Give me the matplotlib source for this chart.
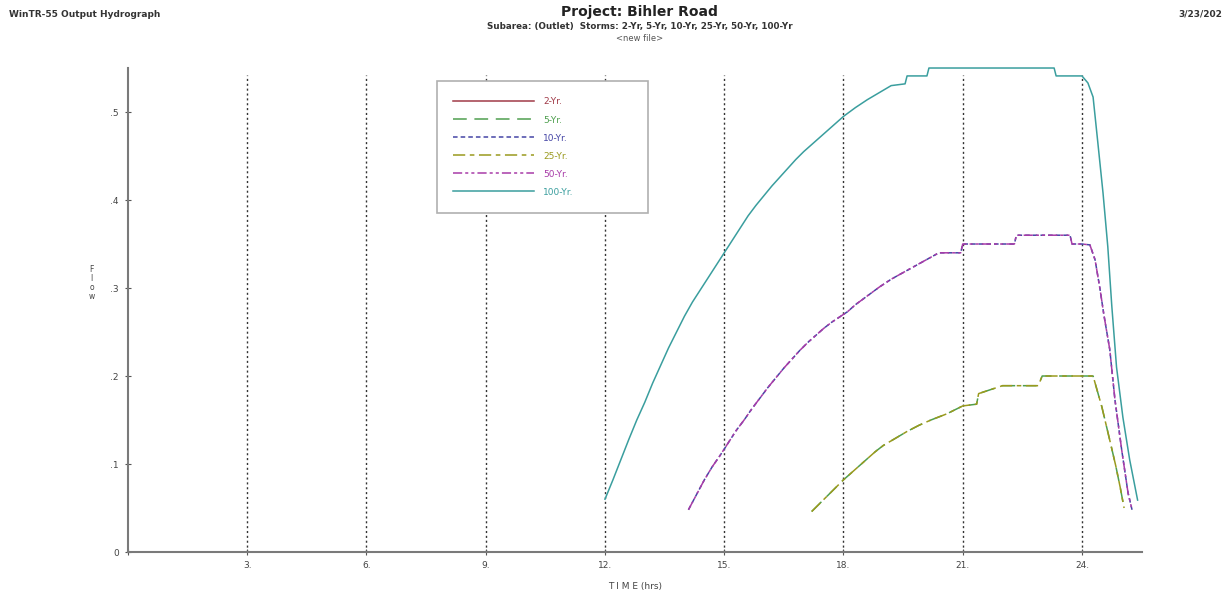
"""
WinTR-55 output hydrograph, Bihler Road (outlet), 2- to 100-yr storms.
"""
import matplotlib
matplotlib.use("Agg")
import matplotlib.pyplot as plt

# --- hydrograph values (time hrs, flow cfs) ---
time_100 = [12.0, 12.2, 12.4, 12.6, 12.8, 13.0, 13.2, 13.4, 13.6, 13.8,
            14.0, 14.2, 14.4, 14.6, 14.8, 15.0, 15.2, 15.4, 15.6, 15.8,
            16.0, 16.2, 16.4, 16.6, 16.8, 17.0, 17.2, 17.4, 17.6, 17.8,
            18.0, 18.3, 18.6, 18.9, 19.2, 19.55, 19.6, 20.1, 20.15, 23.3, 23.35, 24.0,
            24.15, 24.28, 24.4, 24.53, 24.65, 24.75, 24.87, 25.03, 25.2, 25.4]
flow_100 = [0.060, 0.082, 0.105, 0.128, 0.150, 0.170, 0.192, 0.212, 0.232, 0.250,
            0.268, 0.284, 0.298, 0.312, 0.326, 0.340, 0.354, 0.368, 0.382, 0.394,
            0.405, 0.416, 0.426, 0.436, 0.446, 0.455, 0.463, 0.471, 0.479, 0.487,
            0.495, 0.505, 0.514, 0.522, 0.530, 0.532, 0.541, 0.541, 0.550, 0.550, 0.541, 0.541,
            0.533, 0.517, 0.465, 0.408, 0.347, 0.280, 0.210, 0.153, 0.105, 0.059]

time_50 = [14.1, 14.3, 14.5, 14.7, 14.9, 15.1, 15.3, 15.5, 15.7, 15.9,
           16.1, 16.3, 16.5, 16.7, 16.9, 17.1, 17.3, 17.5, 17.7, 17.9,
           18.1, 18.3, 18.6, 18.9, 19.2, 19.6, 20.0, 20.4, 20.95, 21.0, 22.3, 22.35,
           23.7, 23.75, 24.0,
           24.2, 24.33, 24.45, 24.55, 24.7, 24.83, 25.0, 25.16, 25.26]
flow_50 = [0.048, 0.065, 0.082, 0.097, 0.110, 0.124, 0.138, 0.150, 0.163, 0.175,
           0.187, 0.198, 0.209, 0.219, 0.229, 0.238, 0.246, 0.254, 0.261, 0.267,
           0.273, 0.281, 0.291, 0.301, 0.310, 0.320, 0.330, 0.340, 0.340, 0.350, 0.350, 0.360,
           0.360, 0.350, 0.350,
           0.349, 0.332, 0.300, 0.270, 0.230, 0.173, 0.116, 0.067, 0.048]

time_25 = [17.2, 17.4, 17.6, 17.8, 18.0, 18.2, 18.4, 18.6, 18.8, 19.0,
           19.3, 19.6, 19.9, 20.2, 20.6, 21.0, 21.35, 21.4, 22.0, 22.9, 23.0, 24.28,
           24.5, 24.7, 24.85, 24.96, 25.06]
flow_25 = [0.046, 0.055, 0.064, 0.073, 0.082, 0.090, 0.098, 0.106, 0.114, 0.121,
           0.129, 0.137, 0.144, 0.150, 0.157, 0.166, 0.168, 0.180, 0.189, 0.189, 0.200, 0.200,
           0.165, 0.127, 0.098, 0.074, 0.050]

# smaller storms sit underneath the larger ones on the plot
time_10, flow_10 = time_50, flow_50
time_5, flow_5 = time_25, flow_25
time_2, flow_2 = [], []

storms = ["2-Yr.", "5-Yr.", "10-Yr.", "25-Yr.", "50-Yr.", "100-Yr."]
colors = ["#a03a48", "#4f9f4f", "#4545a5", "#9a9a1e", "#a83ca8", "#3a9e9e"]
dashes = ["-", (0, (9, 5)), (0, (3, 2)), (0, (8, 3, 3, 3)), (0, (6, 2, 2, 2, 2, 2)), "-"]
series = [(time_2, flow_2), (time_5, flow_5), (time_10, flow_10),
          (time_25, flow_25), (time_50, flow_50), (time_100, flow_100)]

x_ticks = [3, 6, 9, 12, 15, 18, 21, 24]
y_ticks = [0, 0.1, 0.2, 0.3, 0.4, 0.5]
y_labels = ["0", ".1", ".2", ".3", ".4", ".5"]

fig = plt.figure(figsize=(12.25, 5.94), dpi=100)
ax = fig.add_axes([0.1045, 0.0707, 0.8274, 0.8148])

# dotted vertical grid
for xt in x_ticks:
    ax.axvline(xt, ymax=0.985, color="#333333", lw=1.0, ls=(0, (1.5, 2)), zorder=1)

for name, col, ls, (t, q) in zip(storms, colors, dashes, series):
    ax.plot(t, q, color=col, lw=1.1, ls=ls, label=name, clip_on=False, zorder=3)

ax.set_xlim(0, 25.5)
ax.set_ylim(0, 0.55)

for side in ["top", "right"]:
    ax.spines[side].set_visible(False)
for side in ["left", "bottom"]:
    ax.spines[side].set_color("#7a7a7a")
    ax.spines[side].set_linewidth(1.5)

ax.set_xticks([0] + x_ticks)
ax.set_xticklabels([""] + [f"{v}." for v in x_ticks])
ax.set_yticks(y_ticks)
ax.set_yticklabels(y_labels)
ax.tick_params(axis="both", direction="inout", length=5, width=0.8, color="#555555",
               labelsize=6.5, labelcolor="#444444", pad=4)

ax.text(0.5, -0.072, "T I M E (hrs)", transform=ax.transAxes, ha="center", va="center",
        fontsize=6.5, color="#444444")
ax.text(-0.036, 0.555, "F\nl\no\nw", transform=ax.transAxes, ha="center", va="center",
        fontsize=5.5, color="#444444", linespacing=1.0)

leg = ax.legend(loc="upper left", bbox_to_anchor=(0.30, 0.70, 0.217, 0.282),
                mode="expand", fontsize=6.5, handlelength=9.0, handletextpad=1.0,
                labelspacing=1.0, borderpad=1.8, fancybox=False, framealpha=1,
                edgecolor="#b0b0b0")
leg.get_frame().set_linewidth(1.2)
for txt, col in zip(leg.get_texts(), colors):
    txt.set_color(col)

# page header
fig.text(0.007, 0.976, "WinTR-55 Output Hydrograph", ha="left", va="center",
         fontsize=6.5, fontweight="bold", color="#333333")
fig.text(0.522, 0.979, "Project: Bihler Road", ha="center", va="center",
         fontsize=10, fontweight="bold", color="#222222")
fig.text(0.522, 0.955, "Subarea: (Outlet)  Storms: 2-Yr, 5-Yr, 10-Yr, 25-Yr, 50-Yr, 100-Yr",
         ha="center", va="center", fontsize=6.3, fontweight="bold", color="#333333")
fig.text(0.522, 0.935, "<new file>", ha="center", va="center", fontsize=6, color="#555555")
fig.text(0.998, 0.976, "3/23/202", ha="right", va="center", fontsize=6.5,
         fontweight="bold", color="#333333")

fig.savefig("out.png", dpi=100)
